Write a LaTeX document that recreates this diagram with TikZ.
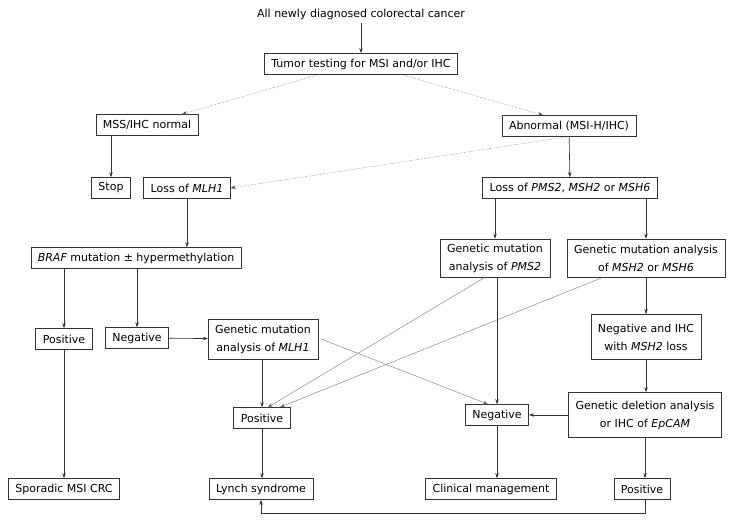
\documentclass[tikz,border=0pt]{standalone}
\usepackage{fontspec}
\setmainfont{DejaVu Sans}
\usepackage{tikz}
\usetikzlibrary{arrows.meta}

\begin{document}
\begin{tikzpicture}[x=1pt,y=-1pt,
    >={Stealth[length=5pt,width=3.5pt]},
    box/.style={draw=black!80,line width=0.6pt,align=center,inner xsep=7pt,inner ysep=3.5pt,
      minimum height=21pt,font=\fontsize{11}{18}\selectfont},
    twobox/.style={box,minimum height=#1},
    link/.style={->,draw=black!80,line width=0.6pt},
    thinlink/.style={->,draw=black!60,line width=0.35pt},
    dotlink/.style={->,draw=black!70,line width=0.4pt,densely dotted}]
    \useasboundingbox (0,0) rectangle (734,522);
    \node (all) at (361,14) {\fontsize{11}{18}\selectfont All newly diagnosed colorectal cancer};
    \node[box] (tt) at (361,64) {Tumor testing for MSI and/or IHC};
    \node[box] (mss) at (147,125) {MSS/IHC normal};
    \node[box] (ab) at (569,126) {Abnormal (MSI-H/IHC)};
    \node[box] (stop) at (111,188) {Stop};
    \node[box] (lm) at (187,188) {Loss of \textit{MLH1}};
    \node[box] (lp) at (570,188) {Loss of \textit{PMS2}, \textit{MSH2} or \textit{MSH6}};
    \node[box] (braf) at (136,258) {\textit{BRAF} mutation ± hypermethylation};
    \node[twobox=38pt] (gp) at (495,258) {Genetic mutation\\analysis of \textit{PMS2}};
    \node[twobox=38pt] (gm) at (646,258) {Genetic mutation analysis\\of \textit{MSH2} or \textit{MSH6}};
    \node[box] (pl) at (64,339) {Positive};
    \node[box] (nl) at (137,338) {Negative};
    \node[twobox=40pt] (gl) at (263,339) {Genetic mutation\\analysis of \textit{MLH1}};
    \node[twobox=45pt] (ni) at (646,337) {Negative and IHC\\with \textit{MSH2} loss};
    \node[box] (pm) at (262,418) {Positive};
    \node[box] (nm) at (497,415) {Negative};
    \node[twobox=45pt] (gd) at (645,415) {Genetic deletion analysis\\or IHC of \textit{EpCAM}};
    \node[box] (sp) at (64,489) {Sporadic MSI CRC};
    \node[box] (ly) at (261,489) {Lynch syndrome};
    \node[box] (cm) at (491,489) {Clinical management};
    \node[box] (pr) at (642,489) {Positive};
    \draw[link] (all) to (tt);
    \draw[dotlink] ([xshift=-43pt]tt.south) to ([xshift=35pt]mss.north);
    \draw[dotlink] ([xshift=41pt]tt.south) to ([xshift=-26pt]ab.north);
    \draw[link] (stop.north |- mss.south) to (stop.north);
    \draw[dotlink] ([xshift=-2pt]ab.south) to (lm.east);
    \draw[link] (ab) to (lp);
    \draw[link] (lm.south) to (lm.south |- braf.north);
    \draw[link] (pl.north |- braf.south) to (pl.north);
    \draw[link] (nl.north |- braf.south) to (nl.north);
    \draw[link] (nl) to (gl);
    \draw[link] (pl) to (sp);
    \draw[link] (gl.south -| pm.north) to (pm.north);
    \draw[link] (pm) to (pm.south |- ly.north);
    \draw[link] (gp.north |- lp.south) to (gp.north);
    \draw[link] (gm.north |- lp.south) to (gm.north);
    \draw[thinlink] ([xshift=-10pt]gp.south) to ([xshift=6pt]pm.north);
    \draw[thinlink] ([xshift=-43pt]gm.south) to ([xshift=18pt]pm.north);
    \draw[link] (nm.north |- gp.south) to (nm.north);
    \draw[thinlink] ([xshift=3pt]gl.east) to ([xshift=-9pt]nm.north);
    \draw[link] (gm) to (ni);
    \draw[link] (ni) to (ni.south |- gd.north);
    \draw[link] (gd) to (nm);
    \draw[link] (gd.south) to (gd.south |- pr.north);
    \draw[link] (nm) to (nm.south |- cm.north);
    \draw[link] ([xshift=3pt]pr.south) -- ++(0,13) -| (ly.south);
  \end{tikzpicture}
\end{document}
